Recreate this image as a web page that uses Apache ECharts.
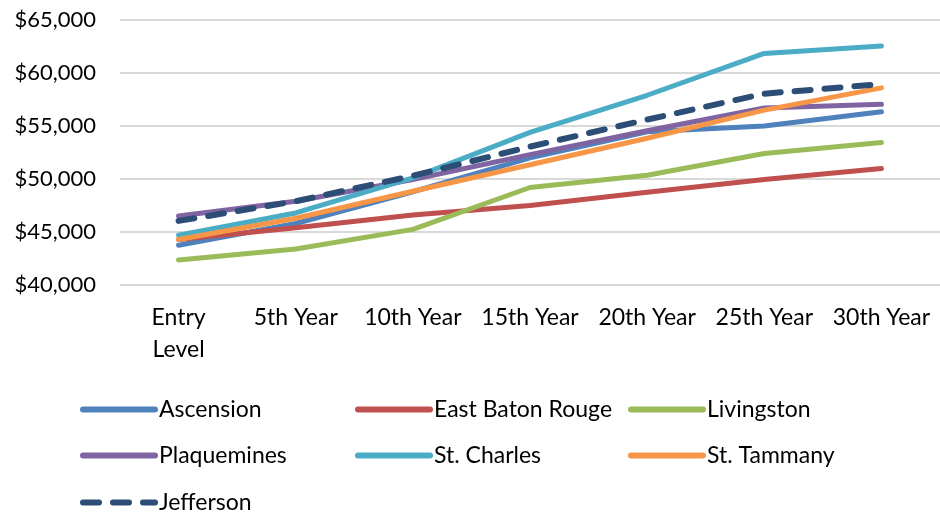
<!DOCTYPE html>
<html>
<head>
<meta charset="utf-8">
<script src="https://cdn.jsdelivr.net/npm/echarts@6/dist/echarts.min.js"></script>
<style>
  html, body { margin: 0; padding: 0; background: #fff; }
  #main { width: 940px; height: 519px; }
</style>
</head>
<body>
<div id="main"></div>
<script>
// categories and salaries
var years = ['Entry\nLevel', '5th Year', '10th Year', '15th Year', '20th Year', '25th Year', '30th Year'];
var ascension   = [43750, 45800, 48800, 52000, 54450, 55000, 56350];
var eastBR      = [44300, 45400, 46600, 47500, 48750, 49950, 51000];
var livingston  = [42350, 43400, 45250, 49200, 50350, 52400, 53450];
var plaquemines = [46500, 47900, 49950, 52300, 54550, 56700, 57050];
var stCharles   = [44700, 46800, 50100, 54400, 57900, 61850, 62550];
var stTammany   = [44300, 46300, 48850, 51350, 53850, 56500, 58600];
var jefferson   = [46050, 47900, 50300, 53050, 55600, 58050, 58950];

var font = 'Lato';
var myChart = echarts.init(document.getElementById('main'));

function line(name, data, color, dashed) {
    return {
        name: name,
        type: 'line',
        data: data,
        symbol: 'none',
        showSymbol: false,
        z: dashed ? 5 : 2,
        lineStyle: {
            color: color,
            width: dashed ? 6 : 5,
            type: dashed ? [16, 14] : 'solid',
            cap: 'round',
            join: 'round'
        },
        itemStyle: { color: color }
    };
}

// one legend per cell so the three columns line up
function legendCell(name, left, top) {
    return {
        data: [name],
        left: left,
        top: top,
        padding: 0,
        itemGap: 0,
        itemWidth: 72,
        itemHeight: 20,
        itemStyle: { opacity: 0 },
        lineStyle: { width: 6, cap: 'round' },
        textStyle: { fontFamily: font, fontSize: 23, color: '#000', padding: [0, 0, 0, -1] }
    };
}

var option = {
    animation: false,
    grid: { left: 120, top: 20, width: 823, height: 265 },
    xAxis: {
        type: 'category',
        data: years,
        boundaryGap: true,
        axisLine: { show: false },
        axisTick: { show: false },
        axisLabel: {
            interval: 0,
            margin: 17,
            fontFamily: font,
            fontSize: 23,
            lineHeight: 32,
            color: '#000'
        }
    },
    yAxis: {
        type: 'value',
        min: 40000,
        max: 65000,
        interval: 5000,
        axisLine: { show: false },
        axisTick: { show: false },
        splitLine: { lineStyle: { color: '#d9d9d9', width: 2 } },
        axisLabel: {
            margin: 24,
            fontFamily: font,
            fontSize: 22,
            color: '#000',
            formatter: function (v) { return '$' + v.toLocaleString('en-US'); }
        }
    },
    legend: [
        legendCell('Ascension', 80, 398),
        legendCell('East Baton Rouge', 355, 398),
        legendCell('Livingston', 628, 398),
        legendCell('Plaquemines', 80, 444),
        legendCell('St. Charles', 355, 444),
        legendCell('St. Tammany', 628, 444),
        legendCell('Jefferson', 80, 491)
    ],
    series: [
        line('Ascension', ascension, '#4f81bd'),
        line('East Baton Rouge', eastBR, '#c0504d'),
        line('Livingston', livingston, '#9bbb59'),
        line('Plaquemines', plaquemines, '#8064a2'),
        line('St. Charles', stCharles, '#4bacc6'),
        line('St. Tammany', stTammany, '#f79646'),
        line('Jefferson', jefferson, '#2c4d75', true)
    ]
};

myChart.setOption(option);
</script>
</body>
</html>
